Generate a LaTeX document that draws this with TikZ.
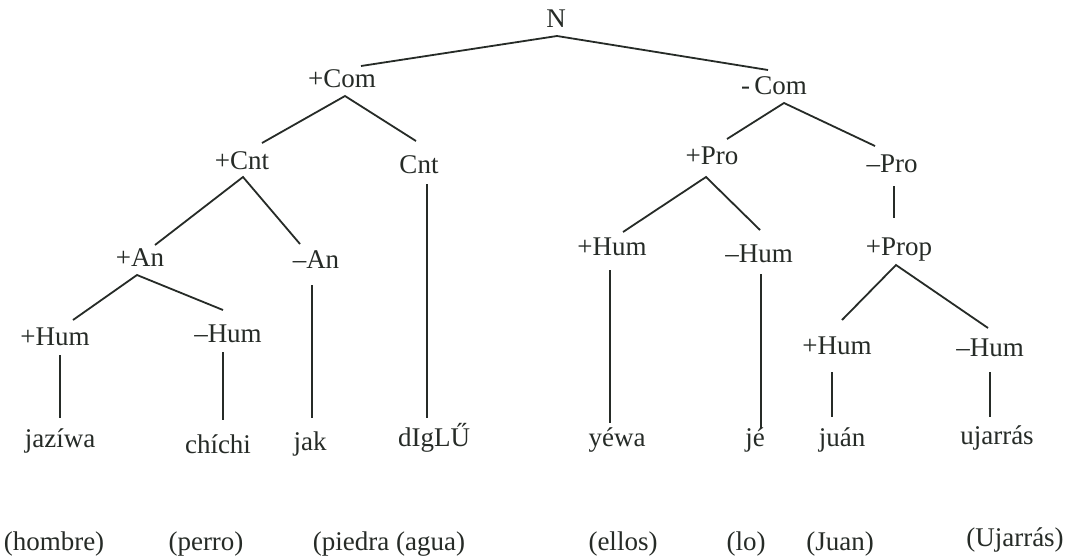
\documentclass[tikz,border=0pt]{standalone}
\usepackage{fontspec}
\setmainfont{Liberation Serif}
\usetikzlibrary{calc}
\definecolor{ink}{HTML}{262B27}
\tikzset{
  lbl/.style={anchor=base, inner sep=0pt, font=\fontsize{27}{31}\selectfont, text=ink},
  br/.style={draw=ink, line width=1.8pt}
}
\begin{document}
\begin{tikzpicture}[x=1pt,y=-1pt]
\fill[white] (0,0) rectangle (1065,558);
\useasboundingbox (0,0) rectangle (1065,558);
% feature labels
\node[lbl] (N) at (556,27) {N};
\node[lbl] (pcom) at (342,87) {+Com};
\node[lbl] (mcom) at (774,94) {-\,Com};
\node[lbl] (pcnt) at (242,169) {+Cnt};
\node[lbl] (cnt) at (419,173) {Cnt};
\node[lbl] (ppro) at (712,164) {+Pro};
\node[lbl] (mpro) at (892,172) {–Pro};
\node[lbl] (pan) at (140,266) {+An};
\node[lbl] (man) at (316,268) {–An};
\node[lbl] (phumA) at (55,345) {+Hum};
\node[lbl] (mhumA) at (228,342) {–Hum};
\node[lbl] (phumB) at (612,255) {+Hum};
\node[lbl] (mhumB) at (759,262) {–Hum};
\node[lbl] (pprop) at (899,255) {+Prop};
\node[lbl] (phumC) at (837,354) {+Hum};
\node[lbl] (mhumC) at (990,356) {–Hum};
% words
\node[lbl] (w1) at (60,447) {jazíwa};
\node[lbl] (w2) at (218,453) {chíchi};
\node[lbl] (w3) at (310,450) {jak};
\node[lbl] (w4) at (434,446) {dIgLŰ};
\node[lbl] (w5) at (617,446) {yéwa};
\node[lbl] (w6) at (755,446) {jé};
\node[lbl] (w7) at (842,446) {juán};
\node[lbl] (w8) at (997,444) {ujarrás};
% glosses
\node[lbl] (g1) at (54,550) {(hombre)};
\node[lbl] (g2) at (206,550) {(perro)};
\node[lbl] (g3) at (389,550) {(piedra (agua)};
\node[lbl] (g4) at (623,550) {(ellos)};
\node[lbl] (g5) at (746,550) {(lo)};
\node[lbl] (g6) at (840,550) {(Juan)};
\node[lbl] (g7) at (1015,546) {(Ujarrás)};
% branches
\draw[br] ($(pcom.base)+(19,-21)$) -- ($(N.base)+(1,9)$) -- ($(mcom.base)+(-6,-24)$);
\draw[br] ($(pcnt.base)+(20,-26)$) -- ($(pcom.base)+(3,9)$) -- ($(cnt.base)+(-3,-32)$);
\draw[br] ($(pan.base)+(15,-21)$) -- ($(pcnt.base)+(1,8)$) -- ($(man.base)+(-16,-24)$);
\draw[br] ($(cnt.base)+(8,11)$) -- ($(w4.base)+(-7,-28)$);
\draw[br] ($(phumA.base)+(18,-25)$) -- ($(pan.base)+(-3,9)$) -- ($(mhumA.base)+(-5,-32)$);
\draw[br] ($(man.base)+(-4,17)$) -- ($(w3.base)+(2,-32)$);
\draw[br] ($(phumA.base)+(5,10)$) -- ($(w1.base)+(0,-29)$);
\draw[br] ($(mhumA.base)+(-5,10)$) -- ($(w2.base)+(5,-33)$);
\draw[br] ($(ppro.base)+(15,-25)$) -- ($(mcom.base)+(10,9)$) -- ($(mpro.base)+(-17,-26)$);
\draw[br] ($(phumB.base)+(11,-23)$) -- ($(ppro.base)+(-6,13)$) -- ($(mhumB.base)+(1,-32)$);
\draw[br] ($(mpro.base)+(2,14)$) -- ($(pprop.base)+(-5,-37)$);
\draw[br] ($(phumC.base)+(5,-34)$) -- ($(pprop.base)+(-3,10)$) -- ($(mhumC.base)+(-2,-28)$);
\draw[br] ($(phumB.base)+(-2,15)$) -- ($(w5.base)+(-7,-23)$);
\draw[br] ($(mhumB.base)+(2,12)$) -- ($(w6.base)+(6,-18)$);
\draw[br] ($(phumC.base)+(-5,18)$) -- ($(w7.base)+(-10,-29)$);
\draw[br] ($(mhumC.base)+(0,16)$) -- ($(w8.base)+(-7,-27)$);
\end{tikzpicture}
\end{document}
